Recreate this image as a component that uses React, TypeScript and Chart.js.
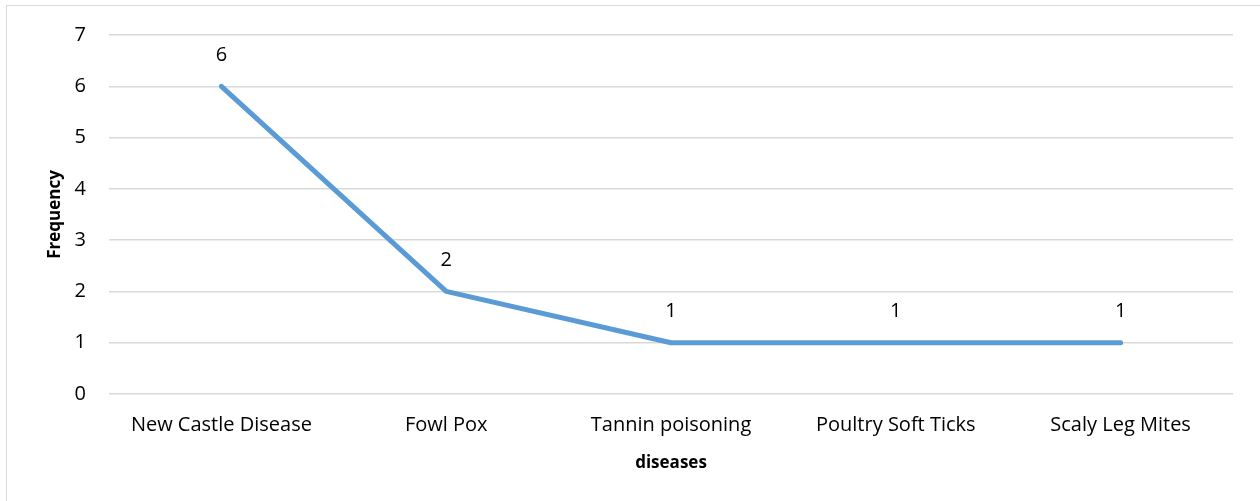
import React, { useEffect, useRef } from "react";
import { Chart, registerables } from "chart.js";

Chart.register(...registerables);

const categories = [
  "New Castle Disease",
  "Fowl Pox",
  "Tannin poisoning",
  "Poultry Soft Ticks",
  "Scaly Leg Mites",
];
const frequency = [6, 2, 1, 1, 1];
const yTicks = [0, 1, 2, 3, 4, 5, 6, 7];

const FONT = "'Open Sans', sans-serif";

const framePlugin = {
  id: "frame",
  beforeDraw(chart: any) {
    const { ctx, width, height } = chart;
    ctx.save();
    ctx.fillStyle = "#ffffff";
    ctx.fillRect(0, 0, width, height);
    ctx.strokeStyle = "#d9d9d9";
    ctx.lineWidth = 1;
    ctx.strokeRect(6.5, 5.5, width + 50, height + 50);
    ctx.restore();
  },
};

const labelPlugin = {
  id: "valueLabels",
  afterDatasetsDraw(chart: any) {
    const { ctx } = chart;
    const meta = chart.getDatasetMeta(0);
    ctx.save();
    ctx.font = `20px ${FONT}`;
    ctx.fillStyle = "#000000";
    ctx.textAlign = "center";
    ctx.textBaseline = "middle";
    meta.data.forEach((pt: any, i: number) => {
      ctx.fillText(String(frequency[i]), pt.x, pt.y - 31);
    });
    ctx.restore();
  },
};

export default function App() {
  const ref = useRef<HTMLCanvasElement>(null);
  useEffect(() => {
    if (!ref.current) return;
    const chart = new Chart(ref.current, {
      type: "line",
      data: {
        labels: categories,
        datasets: [
          {
            data: frequency,
            borderColor: "#5b9bd5",
            backgroundColor: "#5b9bd5",
            borderWidth: 5,
            pointRadius: 0,
            pointHoverRadius: 0,
            borderCapStyle: "round",
            borderJoinStyle: "round",
            tension: 0,
          },
        ],
      },
      options: {
        animation: false,
        responsive: false,
        layout: { padding: { top: 34, right: 27, left: 0, bottom: 0 } },
        plugins: {
          legend: { display: false },
          tooltip: { enabled: false },
        },
        scales: {
          x: {
            offset: true,
            grid: { display: false, drawTicks: false },
            border: { display: false },
            ticks: {
              color: "#000000",
              font: { family: FONT, size: 20 },
              padding: 19,
              maxRotation: 0,
              autoSkip: false,
            },
            title: {
              display: true,
              text: "diseases",
              color: "#000000",
              font: { family: FONT, size: 17, weight: "bold" },
              padding: { top: 0, bottom: 28 },
            },
            afterFit(s: any) {
              s.height = 107;
            },
          },
          y: {
            min: 0,
            max: 7,
            afterBuildTicks(s: any) {
              s.ticks = yTicks.map((v) => ({ value: v }));
            },
            grid: { color: "#d9d9d9", lineWidth: 1.5, drawTicks: false },
            border: { display: false },
            ticks: {
              color: "#000000",
              font: { family: FONT, size: 20 },
              padding: 23,
            },
            title: {
              display: true,
              text: "Frequency",
              color: "#000000",
              font: { family: FONT, size: 17, weight: "bold" },
              padding: { top: 45, bottom: 0 },
            },
            afterFit(s: any) {
              s.width = 109;
            },
          },
        },
      },
      plugins: [framePlugin, labelPlugin],
    });
    return () => chart.destroy();
  }, []);
  return (
    <div style={{ position: "absolute", left: 0, top: 0, width: 1260, height: 501 }}>
      <canvas ref={ref} width={1260} height={501} />
    </div>
  );
}
